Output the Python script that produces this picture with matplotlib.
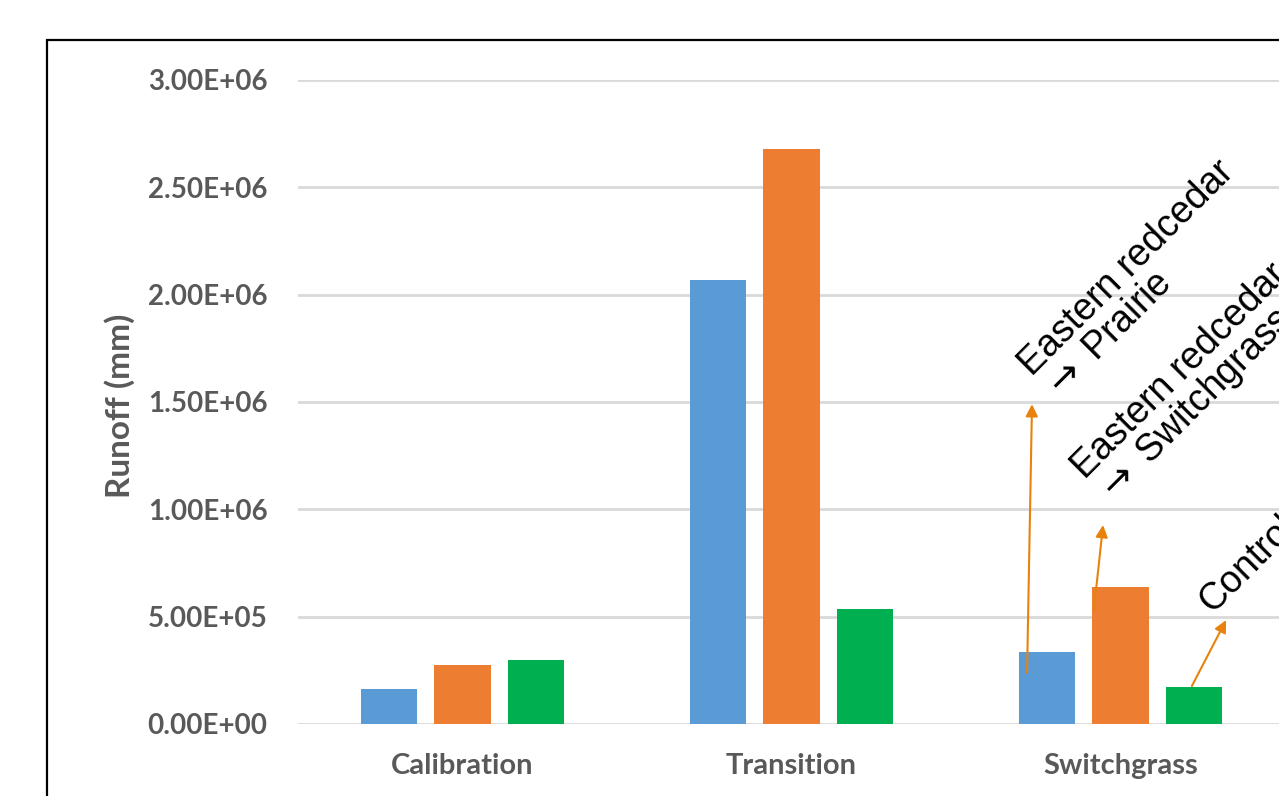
import numpy as np
import matplotlib
import matplotlib.pyplot as plt
from matplotlib.patches import Rectangle
from matplotlib.transforms import offset_copy

periods = ['Calibration', 'Transition', 'Switchgrass']
prairie = [1.65e5, 2.07e6, 3.35e5]
switchgrass = [2.75e5, 2.68e6, 6.38e5]
control = [2.98e5, 5.36e5, 1.72e5]
colors = ['#5B9BD5', '#ED7D31', '#00B050']
yticks = [0, 5e5, 1e6, 1.5e6, 2e6, 2.5e6, 3e6]

notes = ['Eastern redcedar\n$\\rightarrow$ Prairie',
         'Eastern redcedar\n$\\rightarrow$ Switchgrass',
         'Control']
# arrow tail (on the bar), arrow head and baseline start of the last text line
tails = [(1.716, 2.38e5), (1.919, 5.31e5), (2.217, 1.77e5)]
heads = [(1.731, 1.49e6), (1.947, 9.27e5), (2.321, 4.84e5)]
anchors = [(1.807, 1.500e6), (1.968, 1.020e6), (2.278, 0.512e6)]

grey = '#595959'
font_ui = 'Lato'
line_gap = 35  # pixels between baselines of the rotated notes

fig = plt.figure(figsize=(12.79, 7.96), dpi=100)
ax = fig.add_axes([298 / 1279, 72 / 796, 981 / 1279, 644 / 796])

x = np.arange(len(periods))
off = 0.2234
w = 0.173
for k, (vals, c) in enumerate(zip([prairie, switchgrass, control], colors)):
    ax.bar(x + (k - 1) * off, vals, w, color=c, zorder=3)

ax.set_xlim(-0.5, -0.5 + 981 / 329)
ax.set_ylim(0, 3e6)
ax.set_yticks(yticks)
ax.set_yticklabels(['%.2E' % v for v in yticks], fontfamily=font_ui,
                   fontweight='bold', fontsize=20, color=grey)
ax.set_xticks(x)
ax.set_xticklabels(periods, fontfamily=font_ui, fontweight='bold',
                   fontsize=21, color=grey)
ax.tick_params(length=0)
ax.tick_params(axis='y', pad=22)
ax.tick_params(axis='x', pad=21)
for s in ax.spines.values():
    s.set_visible(False)
ax.grid(axis='y', color='#D9D9D9', linewidth=2, zorder=0)
ax.set_axisbelow(True)
ax.set_ylabel('Runoff (mm)', fontfamily=font_ui, fontweight='bold',
              fontsize=24, color=grey, va='center')
ax.yaxis.set_label_coords((120 - 298) / 981, (796 - 406 - 72) / 644)

step = line_gap / np.sqrt(2)
for txt, t, h, a in zip(notes, tails, heads, anchors):
    ax.annotate('', xy=h, xytext=t,
                arrowprops=dict(arrowstyle='-|>', color='#E8820C', lw=1.5,
                                mutation_scale=18, shrinkA=0, shrinkB=0))
    for i, line in enumerate(reversed(txt.split('\n'))):
        tr = offset_copy(ax.transData, fig=fig, x=-i * step, y=i * step,
                         units='dots')
        ax.text(a[0], a[1], line, transform=tr, rotation=45,
                rotation_mode='anchor', ha='left', va='baseline',
                fontsize=27, family='Liberation Sans', clip_on=False)

fig.patches.append(Rectangle((47 / 1279, -0.2), 1.2, (796 - 40) / 796 + 0.2,
                             transform=fig.transFigure, fill=False,
                             edgecolor='black', linewidth=1.6))

fig.savefig('out.png', dpi=100)
